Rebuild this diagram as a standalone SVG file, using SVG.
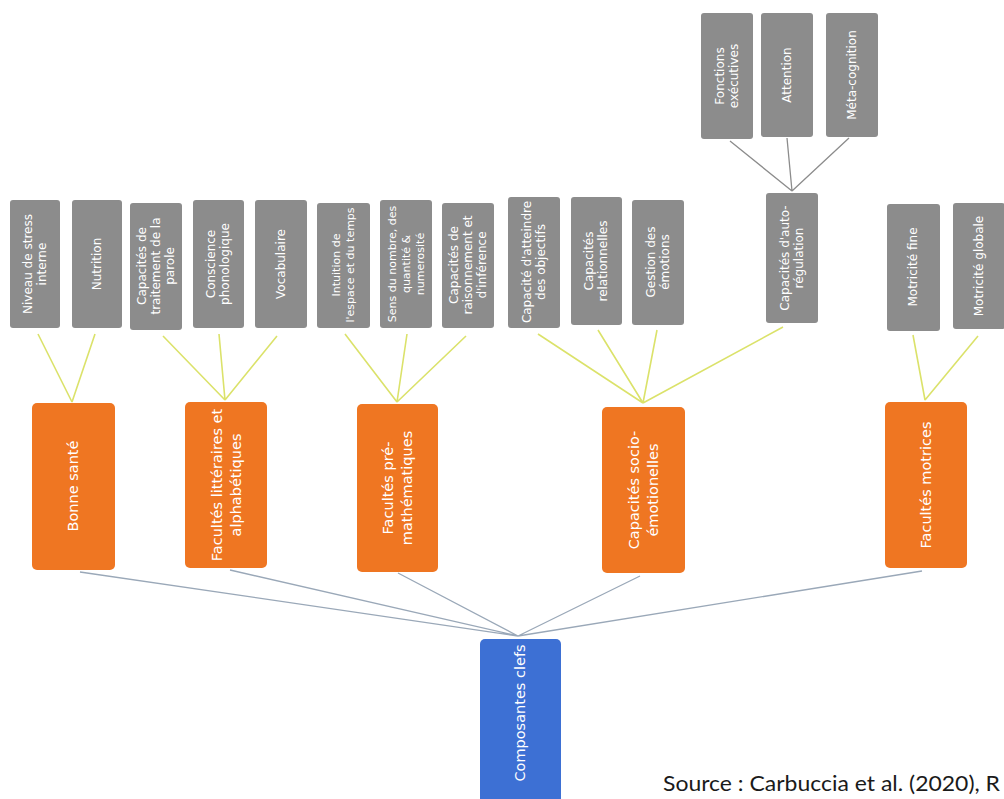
<svg xmlns="http://www.w3.org/2000/svg" width="1004" height="799" viewBox="0 0 1004 799">
<style>
.g rect{fill:#8c8c8c}
.o rect{fill:#ef7622}
.b rect{fill:#3d70d4}
.g text{font-family:"DejaVu Sans",sans-serif;font-size:12px;fill:#ffffff;text-anchor:middle}
.g text.sm{font-size:11px}
.o text,.b text{font-family:"DejaVu Sans",sans-serif;font-size:14.5px;fill:#ffffff;text-anchor:middle}
.y{stroke:#dbe26a;stroke-width:1.6;fill:none}
.s{stroke:#9aa8b8;stroke-width:1.3;fill:none}
.k{stroke:#8c8c8c;stroke-width:1.3;fill:none}
.src{font-family:Lato,"Open Sans",sans-serif;font-size:21px;fill:#1a1a1a}
</style>
<rect width="1004" height="799" fill="#ffffff"/>
<g id="connectors">
<path class="y" d="M72,402L38,334M72,402L95,334"/>
<path class="y" d="M225,400L163,336M225,400L219,334M225,400L277,336"/>
<path class="y" d="M397,402L345,334M397,402L407,334M397,402L466,336"/>
<path class="y" d="M643,403L538,334M643,403L598,330M643,403L657,330M643,403L783,327"/>
<path class="y" d="M925,400L913,335M925,400L978,336"/>
<path class="k" d="M792,191L730,141M792,191L787,138M792,191L849,138"/>
<path class="s" d="M518,636L80,572M518,636L230,570M518,636L398,573M518,636L640,576M518,636L922,571"/>
</g>
<g id="n1" class="g"><rect x="10" y="200" width="50" height="128" rx="3"/><text transform="translate(35,264) rotate(-90)"><tspan x="0" y="-3">Niveau de stress</tspan><tspan x="0" y="11">interne</tspan></text></g>
<g id="n2" class="g"><rect x="72" y="200" width="50" height="128" rx="3"/><text transform="translate(97,264) rotate(-90)"><tspan x="0" y="4">Nutrition</tspan></text></g>
<g id="n3" class="g"><rect x="130" y="203" width="52" height="127" rx="3"/><text transform="translate(156,266) rotate(-90)"><tspan x="0" y="-10">Capacités de</tspan><tspan x="0" y="4">traitement de la</tspan><tspan x="0" y="18">parole</tspan></text></g>
<g id="n4" class="g"><rect x="193" y="200" width="51" height="128" rx="3"/><text transform="translate(218,264) rotate(-90)"><tspan x="0" y="-3">Conscience</tspan><tspan x="0" y="11">phonologique</tspan></text></g>
<g id="n5" class="g"><rect x="255" y="200" width="52" height="128" rx="3"/><text transform="translate(281,264) rotate(-90)"><tspan x="0" y="4">Vocabulaire</tspan></text></g>
<g id="n6" class="g"><rect x="317" y="203" width="53" height="125" rx="3"/><text class="sm" transform="translate(343,265) rotate(-90)"><tspan x="0" y="-3">Intuition de</tspan><tspan x="0" y="11">l'espace et du temps</tspan></text></g>
<g id="n7" class="g"><rect x="380" y="200" width="52" height="128" rx="3"/><text class="sm" transform="translate(406,264) rotate(-90)"><tspan x="0" y="-10">Sens du nombre, des</tspan><tspan x="0" y="4">quantité &amp;</tspan><tspan x="0" y="18">numerosité</tspan></text></g>
<g id="n8" class="g"><rect x="442" y="203" width="52" height="125" rx="3"/><text transform="translate(468,265) rotate(-90)"><tspan x="0" y="-10">Capacités de</tspan><tspan x="0" y="4">raisonnement et</tspan><tspan x="0" y="18">d'inférence</tspan></text></g>
<g id="n9" class="g"><rect x="508" y="197" width="52" height="131" rx="3"/><text transform="translate(534,262) rotate(-90)"><tspan x="0" y="-3">Capacité d'atteindre</tspan><tspan x="0" y="11">des objectifs</tspan></text></g>
<g id="n10" class="g"><rect x="571" y="197" width="51" height="128" rx="3"/><text transform="translate(596,261) rotate(-90)"><tspan x="0" y="-3">Capacités</tspan><tspan x="0" y="11">relationnelles</tspan></text></g>
<g id="n11" class="g"><rect x="632" y="200" width="52" height="125" rx="3"/><text transform="translate(658,262) rotate(-90)"><tspan x="0" y="-3">Gestion des</tspan><tspan x="0" y="11">émotions</tspan></text></g>
<g id="n12" class="g"><rect x="766" y="193" width="52" height="130" rx="3"/><text transform="translate(792,258) rotate(-90)"><tspan x="0" y="-3">Capacités d'auto-</tspan><tspan x="0" y="11">régulation</tspan></text></g>
<g id="n13" class="g"><rect x="701" y="13" width="52" height="126" rx="3"/><text transform="translate(727,76) rotate(-90)"><tspan x="0" y="-3">Fonctions</tspan><tspan x="0" y="11">exécutives</tspan></text></g>
<g id="n14" class="g"><rect x="761" y="13" width="52" height="124" rx="3"/><text transform="translate(787,75) rotate(-90)"><tspan x="0" y="4">Attention</tspan></text></g>
<g id="n15" class="g"><rect x="826" y="13" width="52" height="124" rx="3"/><text transform="translate(852,75) rotate(-90)"><tspan x="0" y="4">Méta-cognition</tspan></text></g>
<g id="n16" class="g"><rect x="887" y="204" width="53" height="127" rx="3"/><text transform="translate(913,267) rotate(-90)"><tspan x="0" y="4">Motricité fine</tspan></text></g>
<g id="n17" class="g"><rect x="953" y="203" width="52" height="126" rx="3"/><text transform="translate(979,266) rotate(-90)"><tspan x="0" y="4">Motricité globale</tspan></text></g>
<g id="o1" class="o"><rect x="32" y="403" width="83" height="167" rx="5"/><text transform="translate(73,486) rotate(-90)"><tspan x="0" y="5">Bonne santé</tspan></text></g>
<g id="o2" class="o"><rect x="185" y="402" width="82" height="166" rx="5"/><text transform="translate(226,485) rotate(-90)"><tspan x="0" y="-4.5">Facultés littéraires et</tspan><tspan x="0" y="14.5">alphabétiques</tspan></text></g>
<g id="o3" class="o"><rect x="357" y="404" width="81" height="168" rx="5"/><text transform="translate(397,488) rotate(-90)"><tspan x="0" y="-4.5">Facultés pré-</tspan><tspan x="0" y="14.5">mathématiques</tspan></text></g>
<g id="o4" class="o"><rect x="602" y="407" width="83" height="166" rx="5"/><text transform="translate(643,490) rotate(-90)"><tspan x="0" y="-4.5">Capacités socio-</tspan><tspan x="0" y="14.5">émotionelles</tspan></text></g>
<g id="o5" class="o"><rect x="885" y="402" width="82" height="166" rx="5"/><text transform="translate(926,485) rotate(-90)"><tspan x="0" y="5">Facultés motrices</tspan></text></g>
<g id="root" class="b"><rect x="480" y="639" width="81" height="175" rx="5"/><text transform="translate(520,713) rotate(-90)"><tspan x="0" y="5">Composantes clefs</tspan></text></g>
<text class="src" x="663" y="791" textLength="337" lengthAdjust="spacingAndGlyphs">Source : Carbuccia et al. (2020), R</text>
</svg>
